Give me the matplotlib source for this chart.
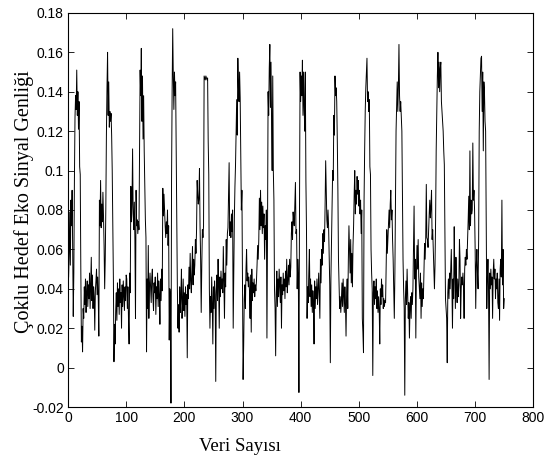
import numpy as np
import matplotlib
matplotlib.use('Agg')
import matplotlib.pyplot as plt

# echo amplitude, one value per sample (1..750)
amplitude = [
    0.046, 0.058, 0.079, 0.052, 0.085, 0.072, 0.09, 0.061, 0.026, 0.048,
    0.095, 0.127, 0.138, 0.131, 0.151, 0.128, 0.14, 0.121, 0.135, 0.102,
    0.098, 0.05, 0.013, 0.021, 0.008, 0.03, 0.025, 0.041, 0.032, 0.045,
    0.028, 0.038, 0.044, 0.031, 0.042, 0.035, 0.048, 0.03, 0.043, 0.056,
    0.034, 0.047, 0.03, 0.041, 0.036, 0.019, 0.039, 0.044, 0.05, 0.037,
    0.046, 0.035, 0.016, 0.085, 0.072, 0.095, 0.071, 0.083, 0.074, 0.089,
    0.077, 0.062, 0.04, 0.055, 0.081, 0.118, 0.142, 0.16, 0.128, 0.145,
    0.122, 0.13, 0.125, 0.129, 0.118, 0.1, 0.07, 0.045, 0.003, 0.022,
    0.012, 0.029, 0.038, 0.024, 0.043, 0.031, 0.04, 0.027, 0.045, 0.033,
    0.038, 0.02, 0.042, 0.031, 0.044, 0.036, 0.029, 0.041, 0.034, 0.047,
    0.045, 0.03, 0.041, 0.024, 0.012, 0.048, 0.038, 0.092, 0.074, 0.083,
    0.111, 0.078, 0.07, 0.084, 0.065, 0.025, 0.09, 0.072, 0.075, 0.068,
    0.074, 0.07, 0.11, 0.151, 0.138, 0.162, 0.125, 0.148, 0.116, 0.138,
    0.11, 0.092, 0.075, 0.066, 0.008, 0.045, 0.03, 0.062, 0.025, 0.042,
    0.048, 0.04, 0.033, 0.046, 0.05, 0.036, 0.029, 0.043, 0.038, 0.046,
    0.027, 0.041, 0.035, 0.048, 0.031, 0.044, 0.037, 0.022, 0.045, 0.034,
    0.05, 0.039, 0.091, 0.077, 0.088, 0.08, 0.072, 0.066, 0.074, 0.068,
    0.08, 0.062, 0.072, 0.014, 0.04, 0.036, -0.018, 0.095, 0.14, 0.172,
    0.148, 0.131, 0.15, 0.138, 0.145, 0.11, 0.078, 0.04, 0.02, 0.032,
    0.018, 0.041, 0.028, 0.036, 0.05, 0.025, 0.033, 0.045, 0.029, 0.038,
    0.026, 0.041, 0.032, 0.037, 0.005, 0.042, 0.035, 0.051, 0.04, 0.058,
    0.044, 0.038, 0.049, 0.0615, 0.042, 0.055, 0.047, 0.052, 0.065, 0.058,
    0.07, 0.095, 0.088, 0.083, 0.086, 0.101, 0.072, 0.055, 0.028, 0.052,
    0.07, 0.066, 0.072, 0.148, 0.147, 0.146, 0.148, 0.147, 0.146, 0.147,
    0.115, 0.098, 0.04, 0.02, 0.036, 0.028, 0.046, 0.033, 0.012, 0.041,
    0.03, 0.044, 0.037, -0.007, 0.039, 0.047, 0.034, 0.055, 0.041, 0.02,
    0.046, 0.036, 0.049, 0.04, 0.045, 0.038, 0.0615, 0.044, 0.025, 0.048,
    0.041, 0.065, 0.052, 0.068, 0.071, 0.089, 0.104, 0.067, 0.074, 0.066,
    0.078, 0.069, 0.08, 0.02, 0.05, 0.076, 0.092, 0.103, 0.12, 0.136,
    0.118, 0.157, 0.142, 0.135, 0.15, 0.137, 0.11, 0.08, 0.09, 0.04,
    -0.006, 0.011, 0.035, 0.042, 0.03, 0.05, 0.06, 0.044, 0.048, 0.041,
    0.046, 0.039, 0.025, 0.047, 0.018, 0.05, 0.034, 0.043, 0.038, 0.045,
    0.036, 0.042, 0.039, 0.044, 0.052, 0.062, 0.055, 0.065, 0.086, 0.07,
    0.09, 0.072, 0.084, 0.068, 0.082, 0.071, 0.078, 0.055, 0.072, 0.065,
    0.08, 0.015, 0.068, 0.14, 0.128, 0.152, 0.164, 0.132, 0.155, 0.124,
    0.1, 0.148, 0.1, 0.085, 0.04, 0.03, 0.006, 0.038, 0.049, 0.031,
    0.045, 0.036, 0.05, 0.041, 0.033, 0.046, 0.02, 0.042, 0.037, 0.048,
    0.039, 0.045, 0.035, 0.049, 0.041, 0.055, 0.038, 0.044, 0.052, 0.042,
    0.055, 0.046, 0.051, 0.068, 0.074, 0.065, 0.079, 0.075, 0.072, 0.084,
    0.094, 0.068, 0.07, 0.04, 0.055, 0.048, -0.0126, 0.08, 0.15, 0.135,
    0.148, 0.138, 0.156, 0.128, 0.15, 0.132, 0.12, 0.15, 0.095, 0.07,
    0.025, 0.041, 0.033, 0.048, 0.06, 0.036, 0.045, 0.031, 0.042, 0.028,
    0.039, 0.033, 0.012, 0.044, 0.03, 0.041, 0.035, 0.045, 0.032, 0.04,
    0.048, 0.037, 0.025, 0.055, 0.043, 0.06, 0.052, 0.068, 0.058, 0.07,
    0.064, 0.082, 0.105, 0.09, 0.075, 0.071, 0.08, 0.072, 0.058, 0.042,
    0.0025, 0.045, 0.065, 0.082, 0.1, 0.095, 0.128, 0.118, 0.148, 0.138,
    0.142, 0.135, 0.115, 0.09, 0.055, 0.042, 0.03, 0.036, 0.028, 0.034,
    0.043, 0.031, 0.045, 0.036, 0.028, 0.041, 0.033, 0.016, 0.038, 0.045,
    0.03, 0.055, 0.072, 0.06, 0.048, 0.065, 0.043, 0.058, 0.041, 0.062,
    0.072, 0.088, 0.1, 0.078, 0.09, 0.083, 0.097, 0.088, 0.095, 0.082,
    0.09, 0.078, 0.085, 0.068, 0.08, 0.025, 0.018, 0.0076, 0.085, 0.11,
    0.13, 0.142, 0.15, 0.157, 0.135, 0.14, 0.13, 0.136, 0.102, 0.098,
    0.06, 0.048, 0.04, -0.004, 0.038, 0.044, 0.032, 0.041, 0.035, 0.045,
    0.03, 0.039, 0.028, 0.036, 0.03, 0.012, 0.04, 0.032, 0.045, 0.036,
    0.042, 0.03, 0.035, 0.031, 0.034, 0.033, 0.05, 0.07, 0.058, 0.065,
    0.072, 0.08, 0.071, 0.083, 0.09, 0.075, 0.08, 0.065, 0.055, 0.04,
    0.025, 0.048, 0.085, 0.12, 0.132, 0.145, 0.13, 0.142, 0.164, 0.138,
    0.13, 0.135, 0.128, 0.12, 0.09, 0.055, 0.04, 0.03, -0.014, 0.035,
    0.044, 0.032, 0.05, 0.038, 0.025, 0.033, 0.015, 0.03, 0.036, 0.025,
    0.038, 0.032, 0.04, 0.06, 0.082, 0.045, 0.055, 0.015, 0.048, 0.062,
    0.05, 0.065, 0.046, 0.04, 0.035, 0.048, 0.025, 0.043, 0.031, 0.04,
    0.035, 0.048, 0.063, 0.055, 0.065, 0.093, 0.066, 0.065, 0.061, 0.07,
    0.078, 0.085, 0.076, 0.082, 0.09, 0.065, 0.07, 0.06, 0.05, 0.04,
    0.052, 0.075, 0.11, 0.13, 0.148, 0.16, 0.142, 0.155, 0.14, 0.152,
    0.155, 0.135, 0.13, 0.125, 0.12, 0.11, 0.103, 0.07, 0.035, 0.03,
    0.025, 0.0025, 0.038, 0.045, 0.035, 0.048, 0.04, 0.05, 0.06, 0.042,
    0.02, 0.045, 0.035, 0.0715, 0.048, 0.03, 0.056, 0.04, 0.033, 0.045,
    0.036, 0.042, 0.065, 0.055, 0.025, 0.04, 0.046, 0.042, 0.048, 0.041,
    0.025, 0.05, 0.056, 0.052, 0.06, 0.055, 0.065, 0.075, 0.087, 0.07,
    0.11, 0.072, 0.085, 0.078, 0.08, 0.114, 0.085, 0.09, 0.08, 0.06,
    0.03, 0.052, 0.06, 0.048, 0.04, 0.065, 0.12, 0.14, 0.148, 0.157,
    0.158, 0.13, 0.15, 0.11, 0.145, 0.14, 0.125, 0.12, 0.075, 0.03,
    0.045, 0.055, 0.04, -0.006, 0.048, 0.04, 0.05, 0.042, 0.046, 0.025,
    0.048, 0.055, 0.045, 0.05, 0.035, 0.045, 0.04, 0.048, 0.033, 0.03,
    0.045, 0.024, 0.05, 0.055, 0.046, 0.085, 0.042, 0.06, 0.03, 0.035,
]
sample = np.arange(1, len(amplitude) + 1)

x_ticks = [0, 100, 200, 300, 400, 500, 600, 700, 800]
y_ticks = [-0.02, 0, 0.02, 0.04, 0.06, 0.08, 0.1, 0.12, 0.14, 0.16, 0.18]
y_tick_labels = ['-0.02', '0', '0.02', '0.04', '0.06', '0.08', '0.1',
                 '0.12', '0.14', '0.16', '0.18']

fig = plt.figure(figsize=(5.53, 4.61), dpi=100)
ax = fig.add_axes([0.123, 0.117, 0.8414, 0.855])
ax.plot(sample, amplitude, color='black', linewidth=0.7)

ax.set_xlim(0, 800)
ax.set_ylim(-0.02, 0.18)
ax.set_xticks(x_ticks)
ax.set_yticks(y_ticks)
ax.set_yticklabels(y_tick_labels)
ax.tick_params(direction='in', top=True, right=True, length=4, width=0.6,
               labelsize=10, pad=3)
for lab in ax.get_xticklabels() + ax.get_yticklabels():
    lab.set_family('Liberation Sans')
for s in ax.spines.values():
    s.set_linewidth(0.8)

# labels sit a bit off-centre in the original
ax.set_xlabel('Veri Sayısı', family='Liberation Serif', fontsize=13.5)
ax.xaxis.set_label_coords(0.369, -0.099)
ax.xaxis.label.set_va('center')
ax.set_ylabel('Çoklu Hedef Eko Sinyal Genliği', family='Liberation Serif',
              fontsize=14.5)
ax.yaxis.set_label_coords(-0.095, 0.522)
ax.yaxis.label.set_va('center')

fig.savefig('out.png', dpi=100)
